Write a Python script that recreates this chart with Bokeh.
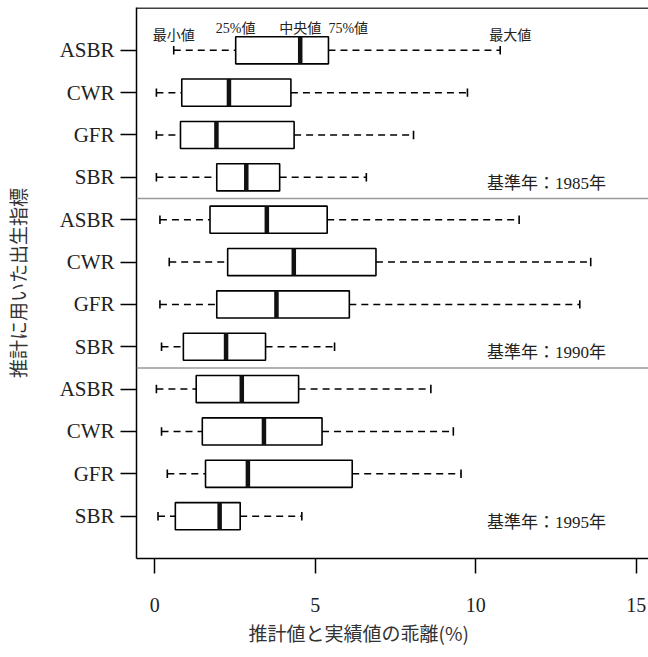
from bokeh.plotting import figure
from bokeh.models import Range1d, FixedTicker, Span, ColumnDataSource, Title
from bokeh.core.properties import value
from bokeh.transform import dodge
from bokeh.embed import file_html
from bokeh.resources import INLINE

# ---- data ----
indicators = ["ASBR", "CWR", "GFR", "SBR"]
base_years = [1985, 1990, 1995]
# order: 1985 ASBR, CWR, GFR, SBR, 1990 ..., 1995 ...
mins    = [0.59, 0.05, 0.05, 0.05,  0.16, 0.45, 0.16, 0.21,  0.05, 0.21, 0.39, 0.10]
q1s     = [2.52, 0.84, 0.80, 1.93,  1.72, 2.27, 1.93, 0.89,  1.29, 1.48, 1.58, 0.64]
medians = [4.53, 2.31, 1.92, 2.85,  3.49, 4.33, 3.79, 2.22,  2.71, 3.40, 2.90, 2.02]
q3s     = [5.41, 4.24, 4.34, 3.89,  5.37, 6.89, 6.06, 3.45,  4.48, 5.21, 6.15, 2.66]
maxs    = [10.76, 9.74, 8.06, 6.59, 11.35, 13.58, 13.24, 5.60, 8.60, 9.30, 9.54, 4.58]
x_ticks = [0, 5, 10, 15]
annot_labels = ["最小値", "25%値", "中央値", "75%値", "最大値"]
x_title = "推計値と実績値の乖離(%)"
y_title = "推計に用いた出生指標"

n = len(mins)
labels = [ind for _ in base_years for ind in indicators]
ys = [n - i for i in range(n)]

SERIF = "Liberation Serif"
MIXED = "Liberation Serif, Noto Sans CJK JP"
CJK = "Noto Sans CJK JP"

p = figure(width=648, height=657, output_backend="svg", toolbar_location=None,
           x_range=Range1d(-0.57, 15.38), y_range=Range1d(0, n + 1.01),
           min_border_left=135, min_border_right=0, min_border_top=7, min_border_bottom=99)
p.outline_line_color = None
p.xgrid.visible = False
p.ygrid.visible = False
p.background_fill_color = "white"

src = ColumnDataSource(dict(y=ys, lo=mins, q1=q1s, med=medians, q3=q3s, hi=maxs))

cap_h = 0.1
box_h = 0.32
# whiskers (dashed)
p.segment(x0="lo", y0="y", x1="q1", y1="y", source=src, line_color="black",
          line_width=1.5, line_dash="7 5")
p.segment(x0="q3", y0="y", x1="hi", y1="y", source=src, line_color="black",
          line_width=1.5, line_dash="7 5")
# caps
p.segment(x0="lo", y0=dodge("y", -cap_h), x1="lo", y1=dodge("y", cap_h), source=src,
          line_color="black", line_width=1.6)
p.segment(x0="hi", y0=dodge("y", -cap_h), x1="hi", y1=dodge("y", cap_h), source=src,
          line_color="black", line_width=1.6)
# boxes
p.hbar(y="y", left="q1", right="q3", height=2 * box_h, source=src, fill_color="white",
       line_color="black", line_width=1.6)
# medians
p.segment(x0="med", y0=dodge("y", -box_h), x1="med", y1=dodge("y", box_h), source=src,
          line_color="#111111", line_width=4.5)

# separators between base years
for k in range(1, len(base_years)):
    p.add_layout(Span(location=n - k * len(indicators) + 0.5, dimension="width",
                      line_color="#999999", line_width=1.5))
# top frame line
p.add_layout(Span(location=n + 1, dimension="width", line_color="black", line_width=1.5))

# annotations on the first box
ax = [mins[0], q1s[0], medians[0], q3s[0], maxs[0]]
ay = [ys[0]] * 5
p.text(x=ax[0:3], y=ay[0:3], text=annot_labels[0:3],
       y_offset=[-15, -22, -22], text_align="center", text_baseline="middle",
       text_font=value(MIXED), text_font_size="14px", text_color="#222222")
p.text(x=[ax[3]], y=[ay[3]], text=[annot_labels[3]], y_offset=-22, text_align="left",
       text_baseline="middle", text_font=value(MIXED), text_font_size="14px", text_color="#222222")
p.text(x=[ax[4]], y=[ay[4]], text=[annot_labels[4]], x_offset=10, y_offset=-15,
       text_align="center", text_baseline="middle", text_font=value(MIXED),
       text_font_size="14px", text_color="#222222")

# base-year labels
label_x = 10.35
yr_y = [ys[(k + 1) * len(indicators) - 1] for k in range(len(base_years))]
p.text(x=[label_x] * len(base_years), y=yr_y, text=[f"基準年：{yr}年" for yr in base_years],
       y_offset=6, text_align="left", text_baseline="middle", text_font=value(MIXED),
       text_font_size="17px", text_color="#222222")

# axes
p.yaxis.ticker = FixedTicker(ticks=ys)
p.yaxis.major_label_overrides = {y: lab for y, lab in zip(ys, labels)}
p.xaxis.ticker = FixedTicker(ticks=x_ticks)
for ax_ in (p.xaxis[0], p.yaxis[0]):
    ax_.axis_line_color = "black"
    ax_.axis_line_width = 1.5
    ax_.major_tick_line_color = "black"
    ax_.major_tick_line_width = 1.5
    ax_.major_tick_out = 15
    ax_.major_tick_in = 0
    ax_.minor_tick_line_color = None
    ax_.major_label_text_font = SERIF
    ax_.major_label_text_font_size = "20px"
    ax_.major_label_text_color = "#222222"

p.yaxis.major_tick_out = 16
p.yaxis.major_label_text_font_size = "21px"
p.yaxis.major_label_standoff = 6
p.yaxis.axis_label = y_title
p.yaxis.axis_label_standoff = 26
p.yaxis.axis_label_text_font = CJK
p.yaxis.axis_label_text_font_size = "19px"
p.yaxis.axis_label_text_font_style = "normal"
p.yaxis.axis_label_text_color = "#333333"
p.xaxis.major_label_standoff = 24

# x-axis title below the axis
p.add_layout(Title(text=x_title, align="left", offset=112, standoff=4,
                   text_font=CJK, text_font_size="19px", text_font_style="normal",
                   text_color="#333333"), "below")

open("out.html", "w").write(file_html(p, INLINE))
